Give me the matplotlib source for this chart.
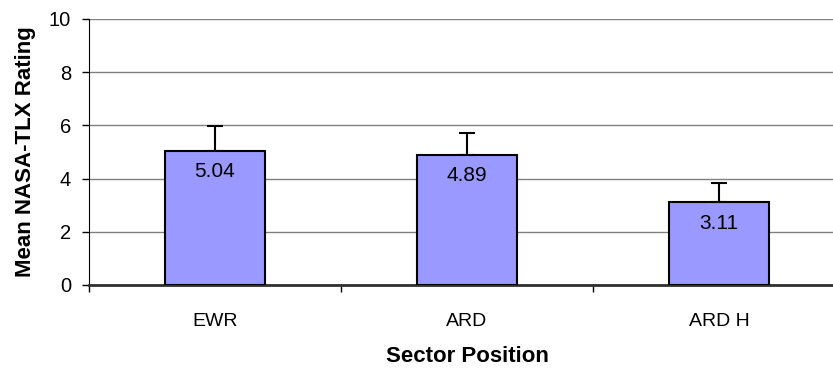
import matplotlib.pyplot as plt
from matplotlib.ticker import FixedLocator

plt.rcParams['font.family'] = ['Liberation Sans', 'DejaVu Sans']

# data
positions = ["EWR", "ARD", "ARD H"]
means = [5.04, 4.89, 3.11]
errors = [0.94, 0.84, 0.74]
yticks = [0, 2, 4, 6, 8, 10]

fig = plt.figure(figsize=(8.33, 3.71), dpi=100)
ax = fig.add_axes([89/833, 1-285/371, 756/833, 266/371])

x = list(range(len(positions)))
ax.bar(x, means, width=0.4, color="#9999FF", edgecolor="black", linewidth=1.5, zorder=3)
ax.errorbar(x, means, yerr=[[0]*len(errors), errors], fmt="none", ecolor="black",
            elinewidth=1.5, capsize=5.5, capthick=1.5, zorder=2)

for xi, m in zip(x, means):
    ax.annotate(f"{m:.2f}", (xi, m), xytext=(0, -15), textcoords="offset points",
                ha="center", va="center", fontsize=15, zorder=4)

ax.set_ylim(0, 10)
ax.set_xlim(-0.5, 2.5)
ax.set_yticks(yticks)
ax.set_xticks(x)
ax.set_xticklabels(positions, fontsize=14)
ax.xaxis.set_minor_locator(FixedLocator([-0.5, 0.5, 1.5, 2.5]))
ax.tick_params(axis="x", which="major", length=0, pad=20)
ax.tick_params(axis="x", which="minor", length=5, width=1, direction="out")
ax.tick_params(axis="y", length=5, width=1, pad=8, labelsize=14.5)

ax.yaxis.grid(True, color="#808080", linewidth=1, zorder=0)
ax.set_axisbelow(True)
for s in ["top", "right"]:
    ax.spines[s].set_visible(False)
ax.spines["left"].set_color("black")
ax.spines["bottom"].set_color("#303030")
ax.spines["bottom"].set_linewidth(2)

ax.set_xlabel("Sector Position", fontsize=16, fontweight="bold", va="center")
ax.xaxis.set_label_coords(0.5, -72/266)
ax.set_ylabel("Mean NASA-TLX Rating", fontsize=16, fontweight="bold", va="center", ha="center")
ax.yaxis.set_label_coords(-64/756, 0.5)

fig.savefig("out.png", dpi=100)
